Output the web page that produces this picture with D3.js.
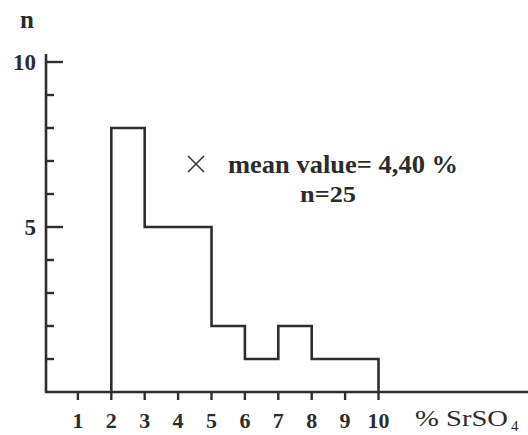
<!DOCTYPE html>
<html>
<head>
<meta charset="utf-8">
<script src="https://cdn.jsdelivr.net/npm/d3@7"></script>
<style>
  html, body { margin: 0; padding: 0; background: #fff; }
  svg { display: block; }
  text { font-family: "Liberation Serif", "DejaVu Serif", serif; fill: #2c2c2c; }
</style>
</head>
<body>
<svg id="chart" width="528" height="435"></svg>
<script>
// Histogram of SrSO4 content (class edges in %, counts per class)
const binEdges = [2, 3, 4, 5, 6, 7, 8, 9, 10];
const binCounts = [8, 5, 5, 2, 1, 2, 1, 1];
const xTickValues = [1, 2, 3, 4, 5, 6, 7, 8, 9, 10];
const yMajorTicks = [5, 10];
const yMinorTicks = [1, 2, 3, 4, 6, 7, 8, 9];
const meanValue = "4,40";
const sampleSize = 25;

const svg = d3.select("#chart");
const ink = "#2e2e2e";

const x = d3.scaleLinear().domain([0, 10]).range([44.5, 378.5]);
const y = d3.scaleLinear().domain([0, 10]).range([392, 62]);

// axes frame
svg.append("line")
  .attr("x1", 46).attr("x2", 46).attr("y1", 54).attr("y2", y(0) + 1)
  .attr("stroke", ink).attr("stroke-width", 2.6);
svg.append("line")
  .attr("x1", 45).attr("x2", 528).attr("y1", y(0)).attr("y2", y(0))
  .attr("stroke", ink).attr("stroke-width", 2.4);

// y axis ticks (inside, pointing right)
svg.selectAll("line.ymaj").data(yMajorTicks).join("line")
  .attr("class", "ymaj")
  .attr("x1", 46).attr("x2", 63)
  .attr("y1", d => y(d)).attr("y2", d => y(d))
  .attr("stroke", ink).attr("stroke-width", 2.4);
svg.selectAll("line.ymin").data(yMinorTicks).join("line")
  .attr("class", "ymin")
  .attr("x1", 46).attr("x2", 54)
  .attr("y1", d => y(d)).attr("y2", d => y(d))
  .attr("stroke", ink).attr("stroke-width", 2.4);
svg.selectAll("text.ylab").data(yMajorTicks).join("text")
  .attr("class", "ylab")
  .attr("x", 36).attr("y", d => y(d) + 7.5)
  .attr("text-anchor", "end")
  .style("font-size", "23px").style("font-weight", "bold")
  .text(d => d);
svg.append("text")
  .attr("x", 27).attr("y", 28)
  .attr("text-anchor", "middle")
  .style("font-size", "25px").style("font-weight", "bold")
  .text("n");

// x axis ticks (pointing down) and labels
svg.selectAll("line.xt").data(xTickValues).join("line")
  .attr("class", "xt")
  .attr("x1", d => x(d)).attr("x2", d => x(d))
  .attr("y1", y(0)).attr("y2", y(0) + 8)
  .attr("stroke", ink).attr("stroke-width", 2.4);
svg.selectAll("text.xlab").data(xTickValues).join("text")
  .attr("class", "xlab")
  .attr("x", d => x(d)).attr("y", 428)
  .attr("text-anchor", "middle")
  .style("font-size", "22px").style("font-weight", "bold")
  .text(d => d);
svg.append("text")
  .attr("x", 415).attr("y", 426)
  .attr("textLength", 93).attr("lengthAdjust", "spacingAndGlyphs")
  .style("font-size", "23px")
  .text("% SrSO");
svg.append("text")
  .attr("x", 511).attr("y", 431)
  .style("font-size", "15px")
  .text("4");

// histogram outline
const pts = [[binEdges[0], 0]];
binCounts.forEach((c, i) => {
  pts.push([binEdges[i], c]);
  pts.push([binEdges[i + 1], c]);
});
pts.push([binEdges[binEdges.length - 1], 0]);
svg.append("path")
  .attr("d", d3.line().x(d => x(d[0])).y(d => y(d[1]))(pts))
  .attr("fill", "none").attr("stroke", ink)
  .attr("stroke-width", 2.6).attr("stroke-linejoin", "miter");

// mean marker and annotation
const mx = 196, my = 164, ms = 8;
svg.append("path")
  .attr("d", `M${mx - ms},${my - ms}L${mx + ms},${my + ms}M${mx - ms},${my + ms}L${mx + ms},${my - ms}`)
  .attr("stroke", "#3a3a3a").attr("stroke-width", 1.6).attr("fill", "none");
svg.append("text")
  .attr("x", 228).attr("y", 173)
  .attr("textLength", 230).attr("lengthAdjust", "spacingAndGlyphs")
  .style("font-size", "26px").style("font-weight", "bold")
  .text(`mean value= ${meanValue} %`);
svg.append("text")
  .attr("x", 300).attr("y", 202)
  .attr("textLength", 56).attr("lengthAdjust", "spacingAndGlyphs")
  .style("font-size", "23px").style("font-weight", "bold")
  .text(`n=${sampleSize}`);
</script>
</body>
</html>
